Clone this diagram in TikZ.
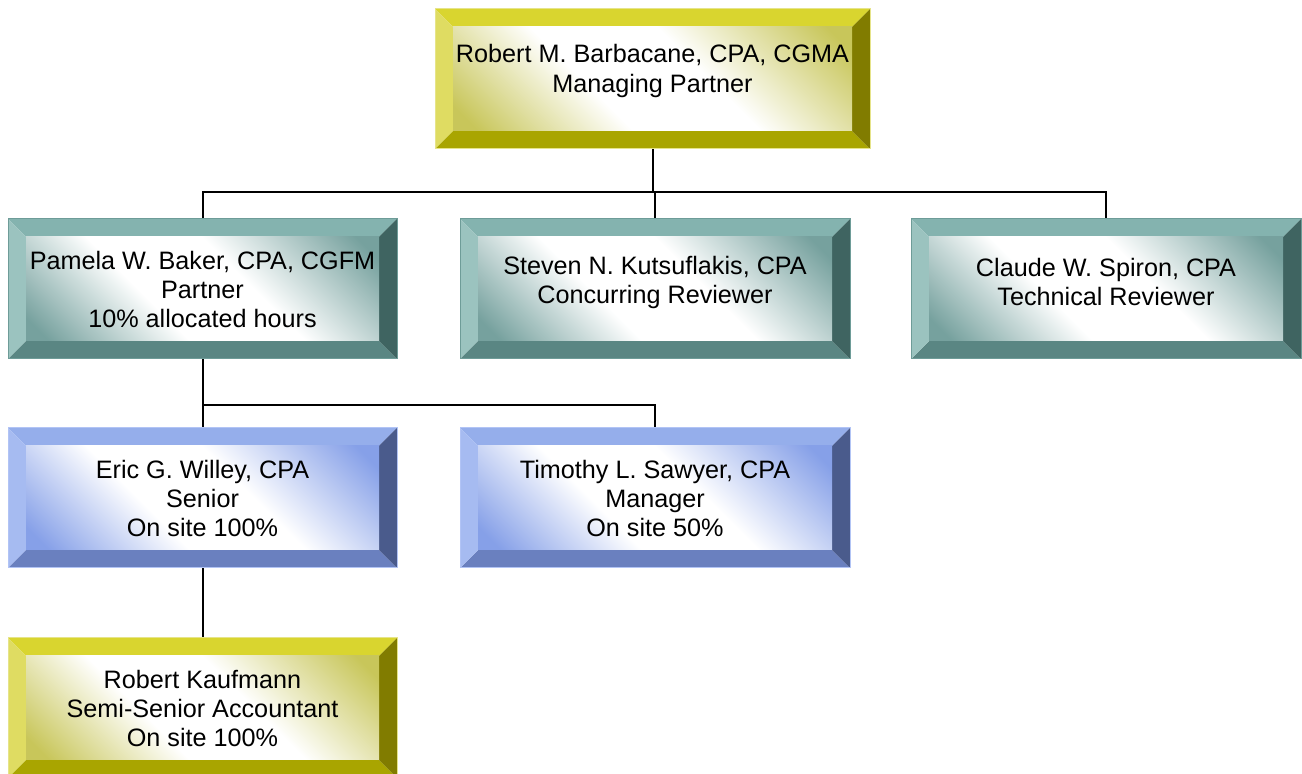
\documentclass[tikz,border=0pt]{standalone}
\usepackage{fontspec}
\setmainfont{Liberation Sans}
\usetikzlibrary{calc}
\definecolor{ytop}{HTML}{D9D52F}
\definecolor{yleft}{HTML}{DFDC62}
\definecolor{yright}{HTML}{817C00}
\definecolor{ybot}{HTML}{A9A500}
\definecolor{ytint}{HTML}{C8C65A}
\definecolor{yedge}{HTML}{E6E48A}
\definecolor{ttop}{HTML}{84B3AF}
\definecolor{tleft}{HTML}{9BC3BF}
\definecolor{tright}{HTML}{3F6461}
\definecolor{tbot}{HTML}{5A8683}
\definecolor{ttint}{HTML}{76A19E}
\definecolor{tedge}{HTML}{6E9C98}
\definecolor{btop}{HTML}{95AEEB}
\definecolor{bleft}{HTML}{A6BBF1}
\definecolor{bright}{HTML}{4A5B8C}
\definecolor{bbot}{HTML}{6A80BF}
\definecolor{btint}{HTML}{86A0E8}
\definecolor{bedge}{HTML}{B2C4F5}
\pgfdeclareverticalshading{yface}{100bp}{color(0bp)=(ytint); color(18bp)=(ytint); color(40bp)=(white); color(58bp)=(white); color(82bp)=(ytint); color(100bp)=(ytint)}
\pgfdeclareverticalshading{tface}{100bp}{color(0bp)=(ttint); color(18bp)=(ttint); color(40bp)=(white); color(58bp)=(white); color(82bp)=(ttint); color(100bp)=(ttint)}
\pgfdeclareverticalshading{bface}{100bp}{color(0bp)=(btint); color(18bp)=(btint); color(40bp)=(white); color(58bp)=(white); color(82bp)=(btint); color(100bp)=(btint)}
\tikzset{
  bevelbox/.style n args={6}{%
    rectangle, inner sep=0pt, draw=#6, line width=0.5pt,
    minimum height=70pt,
    path picture={
      \path (path picture bounding box.north west) coordinate (@nw)
            (path picture bounding box.north east) coordinate (@ne)
            (path picture bounding box.south east) coordinate (@se)
            (path picture bounding box.south west) coordinate (@sw);
      \fill[#1] (@nw) -- (@ne) -- ($(@ne)+(-9pt,-9pt)$) -- ($(@nw)+(9pt,-9pt)$) -- cycle;
      \fill[#4] (@sw) -- (@se) -- ($(@se)+(-9pt,9pt)$) -- ($(@sw)+(9pt,9pt)$) -- cycle;
      \fill[#2] (@nw) -- (@sw) -- ($(@sw)+(9pt,9pt)$) -- ($(@nw)+(9pt,-9pt)$) -- cycle;
      \fill[#3] (@ne) -- (@se) -- ($(@se)+(-9pt,9pt)$) -- ($(@ne)+(-9pt,-9pt)$) -- cycle;
      \shade[shading=#5, shading angle=-45]
        ($(@nw)+(9pt,-9pt)$) rectangle ($(@se)+(-9pt,9pt)$);
    }
  },
  ybox/.style={bevelbox={ytop}{yleft}{yright}{ybot}{yface}{yedge}},
  tbox/.style={bevelbox={ttop}{tleft}{tright}{tbot}{tface}{tedge}},
  bbox/.style={bevelbox={btop}{bleft}{bright}{bbot}{bface}{bedge}},
  label text/.style={align=center, inner sep=0pt,
    font=\fontsize{12.6}{14.5}\selectfont},
  conn/.style={draw=black, line width=1pt},
}
\begin{document}
\begin{tikzpicture}[x=0.5pt,y=-0.5pt]
\clip (0,0) rectangle (1302,774);
\useasboundingbox (0,0) rectangle (1302,774);
\fill[white] (0,0) rectangle (1302,774);

\node[ybox, minimum width=217.5pt] (top) at (652.5,79) {};
\node[tbox, minimum width=194.5pt] (pam) at (202.5,289) {};
\node[tbox, minimum width=195pt] (stv) at (655,289) {};
\node[tbox, minimum width=195pt] (cla) at (1106,289) {};
\node[bbox, minimum width=194.5pt] (eri) at (202.5,498) {};
\node[bbox, minimum width=195pt] (tim) at (655,498) {};
\node[ybox, minimum width=194.5pt] (rob) at (202.5,708) {};

\node[label text] (topT) at ([yshift=4pt]top.center) {Robert M. Barbacane, CPA, CGMA\\[0.6pt]Managing Partner};
\node[label text] (pamT) at (pam.center) {Pamela W. Baker, CPA, CGFM\\Partner\\10\% allocated hours};
\node[label text] (stvT) at ([yshift=3.5pt]stv.center) {Steven N. Kutsuflakis, CPA\\Concurring Reviewer};
\node[label text] (claT) at ([yshift=3.5pt]cla.center) {Claude W. Spiron, CPA\\Technical Reviewer};
\node[label text] (eriT) at (eri.center) {Eric G. Willey, CPA\\Senior\\On site 100\%};
\node[label text] (timT) at (tim.center) {Timothy L. Sawyer, CPA\\Manager\\On site 50\%};
\node[label text] (robT) at (rob.center) {Robert Kaufmann\\Semi-Senior Accountant\\On site 100\%};

\draw[conn] (top.south) -- ++(0,43) -| (pam.north);
\draw[conn] (top.south) -- ++(0,43) -| (stv.north);
\draw[conn] (top.south) -- ++(0,43) -| (cla.north);
\draw[conn] (pam.south) -- ++(0,46) -| (eri.north);
\draw[conn] (pam.south) -- ++(0,46) -| (tim.north);
\draw[conn] (eri.south) -- (rob.north);
\end{tikzpicture}
\end{document}
